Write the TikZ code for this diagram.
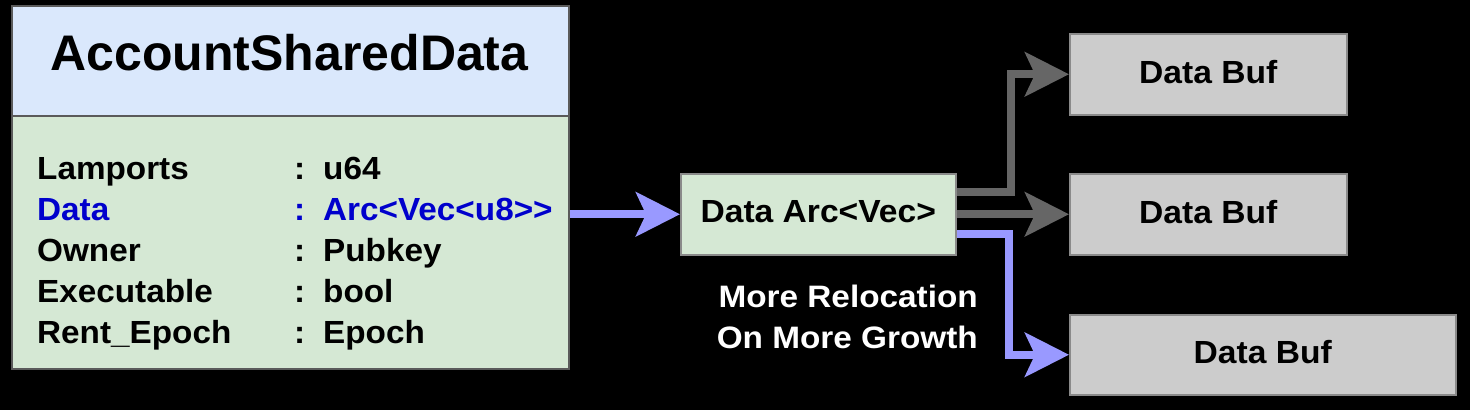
\documentclass[tikz,border=0pt]{standalone}
\usepackage{fontspec}
\setmainfont{Liberation Sans}
\newfontfamily\rowfont[FakeStretch=1.04]{Liberation Sans}
\newfontfamily\boxfont[FakeStretch=1.05]{Liberation Sans}
\newfontfamily\lblfont[FakeStretch=1.075]{Liberation Sans}
\usetikzlibrary{arrows.meta}
\definecolor{hdrfill}{HTML}{DAE8FC}
\definecolor{bodyfill}{HTML}{D5E8D4}
\definecolor{buffill}{HTML}{CCCCCC}
\definecolor{lav}{HTML}{9999FF}
\definecolor{gry}{HTML}{666666}
\definecolor{bluetxt}{HTML}{0000CC}
\definecolor{edge}{HTML}{5A5A5A}
\definecolor{edgelight}{HTML}{8A8A8A}
\tikzset{
  boxbase/.style={inner sep=0pt, anchor=north west, line width=1.5pt},
  hdrbox/.style={boxbase, fill=hdrfill, draw=edge},
  bodybox/.style={boxbase, fill=bodyfill, draw=edge},
  arcbox/.style={boxbase, fill=bodyfill, draw=edgelight, text height=23pt, text depth=6pt, font=\boxfont\bfseries\fontsize{32}{38}\selectfont},
  bufbox/.style={boxbase, fill=buffill, draw=edgelight, text height=23pt, text depth=5pt, font=\boxfont\bfseries\fontsize{32}{38}\selectfont},
  rowtxt/.style={anchor=base west, inner sep=0pt, font=\rowfont\bfseries\fontsize{32}{38}\selectfont},
  bigarrow/.style={line width=8pt, line join=miter, -{Stealth[length=44pt,width=44pt,inset=10pt]}},
}
\begin{document}
\begin{tikzpicture}[x=1pt,y=-1pt]
\fill[black] (0,0) rectangle (1470,410);
\useasboundingbox (0,0) rectangle (1470,410);

% class box
\node[hdrbox, minimum width=557pt, minimum height=110pt] (hdr) at (11,5) {};
\node[anchor=base, inner sep=0pt, font=\bfseries\fontsize{50}{60}\selectfont] (title) at (289.5,70) {AccountSharedData};
\node[bodybox, minimum width=557pt, minimum height=253pt] (body) at (11,115) {};

\node[rowtxt] (n1) at (37,179) {Lamports};
\node[rowtxt] (c1) at (294,179) {:};
\node[rowtxt] (v1) at (323,179) {u64};
\node[rowtxt, text=bluetxt] (n2) at (37,220) {Data};
\node[rowtxt, text=bluetxt] (c2) at (294,220) {:};
\node[rowtxt, text=bluetxt] (v2) at (323,220) {Arc<Vec<u8>{}>};
\node[rowtxt] (n3) at (37,261) {Owner};
\node[rowtxt] (c3) at (294,261) {:};
\node[rowtxt] (v3) at (323,261) {Pubkey};
\node[rowtxt] (n4) at (37,302) {Executable};
\node[rowtxt] (c4) at (294,302) {:};
\node[rowtxt] (v4) at (323,302) {bool};
\node[rowtxt] (n5) at (37,343) {Rent\_Epoch};
\node[rowtxt] (c5) at (294,343) {:};
\node[rowtxt] (v5) at (323,343) {Epoch};

% Arc box and buffers
\node[arcbox, minimum width=275pt, minimum height=81pt] (arc) at (680,173) {Data Arc<Vec>};
\node[bufbox, minimum width=277pt, minimum height=81pt] (buf1) at (1069,33) {Data Buf};
\node[bufbox, minimum width=277pt, minimum height=81pt] (buf2) at (1069,173) {Data Buf};
\node[bufbox, minimum width=386pt, minimum height=80pt] (buf3) at (1069,314) {Data Buf};

% label
\node[anchor=base east, inner sep=0pt, text=white, font=\lblfont\bfseries\fontsize{31}{41}\selectfont] (lbl) at (978,307)
  {\begin{tabular}[t]{@{}r@{}}More Relocation\\On More Growth\end{tabular}};

% connectors
\coordinate (g1) at (1011,192);
\coordinate (b1) at (1009,234);
\draw[bigarrow, lav] (body.east |- arc.west) -- (arc.west);
\draw[bigarrow, gry] (arc.east |- g1) -| (g1 |- buf1.west) -- (buf1.west);
\draw[bigarrow, gry] (arc.east |- buf2.west) -- (buf2.west);
\draw[bigarrow, lav] (arc.east |- b1) -| (b1 |- buf3.west) -- (buf3.west);
\end{tikzpicture}
\end{document}
